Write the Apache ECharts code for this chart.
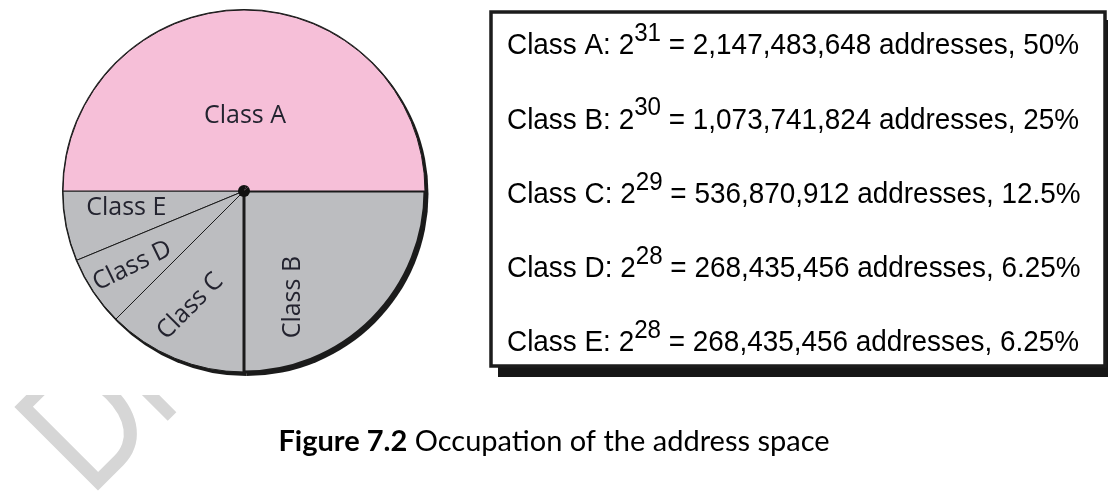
<!DOCTYPE html>
<html>
<head>
<meta charset="utf-8">
<script src="https://cdn.jsdelivr.net/npm/echarts@6/dist/echarts.min.js"></script>
<style>
  html, body { margin: 0; padding: 0; background: #ffffff; }
  #chart { width: 1108px; height: 497px; }
</style>
</head>
<body>
<div id="chart"></div>
<script>
// IPv4 classful address space
const classNames = ['Class A', 'Class B', 'Class C', 'Class D', 'Class E'];
const exponents = [31, 30, 29, 28, 28];
const addressCounts = [2147483648, 1073741824, 536870912, 268435456, 268435456];
const sharePercents = [50, 25, 12.5, 6.25, 6.25];

// styling per class (A..E)
const sliceColors = ['#f6bfd8', '#bcbdc0', '#bcbdc0', '#bcbdc0', '#bcbdc0'];
const sliceBorder = [1, 3, 1, 1, 1];
const labelRotate = [0, 90, 45, 26, 0];
// label nudges in screen pixels
const labelShift = [[1, 18], [-17, 40], [-18, 29], [-34, 23], [-26, -1]];

// slices run counter-clockwise from 9 o'clock, E first, so B's heavier edge sits on top of C
const drawOrder = [4, 3, 2, 1, 0];
const PIE_CENTER = [244, 191];

// address table box
const BOX = { x: 491, y: 12, w: 614, h: 354 };
const ROW_TOP = 21;
const ROW_STEP = 74.25;

const chart = echarts.init(document.getElementById('chart'), null, { renderer: 'canvas' });

const pieData = drawOrder.map(i => ({
  name: classNames[i],
  value: sharePercents[i],
  itemStyle: { color: sliceColors[i], borderWidth: sliceBorder[i] },
  label: { rotate: labelRotate[i] }
}));
const plainData = drawOrder.map(i => ({ name: classNames[i], value: sharePercents[i] }));

const TABLE_FONT = '"Liberation Sans", Arial, sans-serif';
const tableRich = {
  t: { fontFamily: TABLE_FONT, fontSize: 30, color: '#242424', lineHeight: 40, verticalAlign: 'bottom' },
  s: { fontFamily: TABLE_FONT, fontSize: 26, color: '#242424', lineHeight: 28, verticalAlign: 'top' }
};

const tableRows = classNames.map((name, i) => ({
  type: 'text',
  z: 7,
  x: 507,
  y: ROW_TOP + i * ROW_STEP,
  scaleX: 0.93,
  silent: true,
  style: {
    text: '{t|' + name + ': 2}{s|' + exponents[i] + '}{t| = ' +
      addressCounts[i].toLocaleString('en-US') + ' addresses, ' + sharePercents[i] + '%}',
    rich: tableRich,
    align: 'left',
    verticalAlign: 'top'
  }
}));

const option = {
  backgroundColor: '#ffffff',
  animation: false,
  title: {
    text: '{b|Figure 7.2} Occupation of the address space',
    left: 'center',
    top: 422,
    textStyle: {
      fontFamily: 'Lato, sans-serif',
      fontSize: 29,
      fontWeight: 'normal',
      color: '#000000',
      rich: {
        b: { fontFamily: 'Lato, sans-serif', fontSize: 29, fontWeight: 'bold', color: '#000000' }
      }
    }
  },
  graphic: {
    elements: [
      {
        // faint page watermark
        type: 'text',
        z: -2,
        x: 110,
        y: 520,
        rotation: Math.PI / 4,
        scaleX: 0.82,
        silent: true,
        style: {
          text: 'Draft',
          fontFamily: 'Lato, sans-serif',
          fontSize: 165,
          fill: '#d6d6d6',
          align: 'left',
          verticalAlign: 'bottom'
        }
      },
      {
        // opaque figure area over the watermark
        type: 'rect',
        z: -1,
        silent: true,
        shape: { x: 0, y: 0, width: 486, height: 395 },
        style: { fill: '#ffffff' }
      },
      {
        type: 'rect',
        z: 5,
        silent: true,
        shape: { x: BOX.x + 7, y: BOX.y + 8, width: BOX.w + 20, height: BOX.h + 3 },
        style: { fill: '#161616' }
      },
      {
        type: 'rect',
        z: 6,
        silent: true,
        shape: { x: BOX.x, y: BOX.y, width: BOX.w, height: BOX.h },
        style: { fill: '#ffffff', stroke: '#1c1c1c', lineWidth: 3.5 }
      }
    ].concat(tableRows)
  },
  series: [
    {
      // dark under-disc: rim and drop edge of the pie
      type: 'pie',
      center: PIE_CENTER,
      radius: 182,
      startAngle: 180,
      clockwise: false,
      silent: true,
      z: 1,
      data: plainData,
      itemStyle: { color: '#1b1b1b', borderWidth: 0, shadowColor: '#1b1b1b', shadowBlur: 0, shadowOffsetX: 2.5, shadowOffsetY: 3 },
      label: { show: false },
      labelLine: { show: false },
      emphasis: { disabled: true }
    },
    {
      type: 'pie',
      center: PIE_CENTER,
      radius: 181,
      startAngle: 180,
      clockwise: false,
      silent: true,
      avoidLabelOverlap: false,
      z: 2,
      data: pieData,
      itemStyle: { borderColor: '#1b1b1b', borderWidth: 1 },
      label: {
        show: true,
        position: 'inside',
        formatter: '{b}',
        fontFamily: 'Open Sans, sans-serif',
        fontWeight: 500,
        fontSize: 25,
        color: '#23232f'
      },
      labelLine: { show: false },
      labelLayout: p => {
        const k = drawOrder[p.dataIndex];
        const a = labelRotate[k] * Math.PI / 180;
        const sx = labelShift[k][0], sy = labelShift[k][1];
        // the label's dx/dy act in its own rotated frame
        return { dx: sx * Math.cos(a) - sy * Math.sin(a), dy: sx * Math.sin(a) + sy * Math.cos(a) };
      },
      emphasis: { disabled: true }
    },
    {
      // hub dot
      type: 'pie',
      center: PIE_CENTER,
      radius: 6,
      silent: true,
      z: 3,
      data: plainData,
      itemStyle: { color: '#111111', borderWidth: 0 },
      label: { show: false },
      labelLine: { show: false },
      emphasis: { disabled: true }
    }
  ]
};

chart.setOption(option);
</script>
</body>
</html>
